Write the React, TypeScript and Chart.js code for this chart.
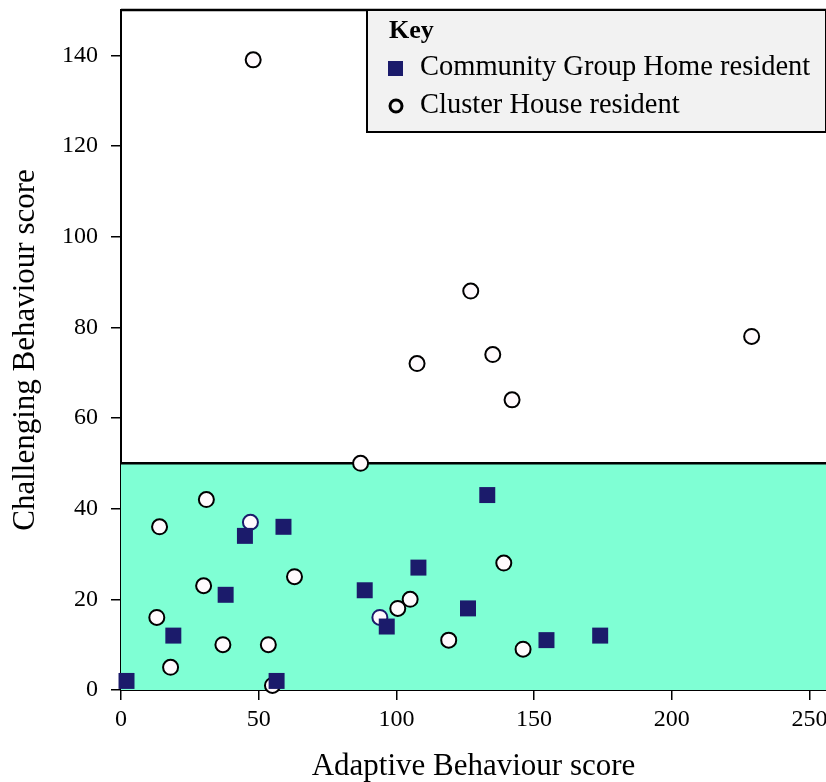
import React, { useEffect, useRef } from "react";
import { Chart, registerables } from "chart.js";

Chart.register(...registerables);

const xTitle = "Adaptive Behaviour score";
const yTitle = "Challenging Behaviour score";
const legendTitle = "Key";
const groupHomeLabel = "Community Group Home resident";
const clusterLabel = "Cluster House resident";

const xTicks = [0, 50, 100, 150, 200, 250];
const yTicks = [0, 20, 40, 60, 80, 100, 120, 140];
const threshold = 50;

// Community Group Home residents (adaptive, challenging)
const groupHomeX = [2, 19, 38, 45, 59, 56.5, 88.5, 96.5, 108, 133, 126, 154.5, 174];
const groupHomeY = [2, 12, 21, 34, 36, 2, 22, 14, 27, 43, 18, 11, 12];

// Cluster House residents (adaptive, challenging)
const clusterX = [48, 127, 135, 107.5, 142, 229, 87, 31, 14, 47, 63, 30, 139, 13, 37, 53.5, 18, 55, 94, 100.5, 105, 119, 146];
const clusterY = [139, 88, 74, 72, 64, 78, 50, 42, 36, 37, 25, 23, 28, 16, 10, 10, 5, 1, 16, 18, 20, 11, 9];
const clusterNavyBorder = [47, 94];

const NAVY = "#1b1b6b";
const TEAL = "#7fffd4";
const SERIF = "'Liberation Serif', 'DejaVu Serif', serif";

export default function App() {
  const ref = useRef<HTMLCanvasElement | null>(null);

  useEffect(() => {
    document.body.style.margin = "0";
    const canvas = ref.current;
    if (!canvas) return;

    const bandPlugin = {
      id: "band",
      beforeDatasetsDraw(chart: any) {
        const { ctx, chartArea, scales } = chart;
        const y50 = scales.y.getPixelForValue(threshold);
        const y0 = scales.y.getPixelForValue(0);
        ctx.save();
        ctx.fillStyle = TEAL;
        ctx.fillRect(chartArea.left, y50, chartArea.right - chartArea.left, y0 - y50);
        ctx.strokeStyle = "#000";
        ctx.lineWidth = 2.5;
        ctx.beginPath();
        ctx.moveTo(chartArea.left, y50);
        ctx.lineTo(chartArea.right, y50);
        ctx.moveTo(chartArea.left, chartArea.top);
        ctx.lineTo(chartArea.right, chartArea.top);
        ctx.stroke();
        ctx.restore();
      },
    };

    const keyPlugin = {
      id: "keybox",
      afterDatasetsDraw(chart: any) {
        const { ctx, chartArea } = chart;
        const left = 367;
        const top = chartArea.top;
        const right = 826;
        const bottom = 132;
        ctx.save();
        ctx.fillStyle = "#f2f2f2";
        ctx.fillRect(left, top, right - left, bottom - top);
        ctx.strokeStyle = "#000";
        ctx.lineWidth = 2;
        ctx.strokeRect(left, top, right - left, bottom - top);
        ctx.fillStyle = "#000";
        ctx.textBaseline = "middle";
        ctx.textAlign = "left";
        ctx.font = "bold 26px " + SERIF;
        ctx.fillText(legendTitle, 389, 31);
        ctx.font = "28.5px " + SERIF;
        ctx.fillText(groupHomeLabel, 420, 68);
        ctx.fillText(clusterLabel, 420, 106);
        ctx.fillStyle = NAVY;
        ctx.fillRect(388, 61, 15, 15);
        ctx.beginPath();
        ctx.arc(396, 106, 6, 0, Math.PI * 2);
        ctx.strokeStyle = "#000";
        ctx.lineWidth = 3;
        ctx.stroke();
        ctx.restore();
      },
    };

    const chart = new Chart(canvas, {
      type: "scatter",
      data: {
        datasets: [
          {
            label: groupHomeLabel,
            data: groupHomeX.map((x, i) => ({ x, y: groupHomeY[i] })),
            pointStyle: "rect",
            pointRadius: 11.3,
            backgroundColor: NAVY,
            borderColor: NAVY,
            borderWidth: 0,
            clip: false,
          },
          {
            label: clusterLabel,
            data: clusterX.map((x, i) => ({ x, y: clusterY[i] })),
            pointStyle: "circle",
            pointRadius: 7.5,
            backgroundColor: "#fffafd",
            borderColor: clusterX.map((x) => (clusterNavyBorder.includes(x) ? NAVY : "#000")),
            borderWidth: 2,
            clip: false,
          },
        ],
      },
      options: {
        responsive: false,
        animation: false,
        layout: { autoPadding: false, padding: { top: 10, right: 0, left: 0, bottom: 0 } },
        plugins: {
          legend: { display: false },
          tooltip: { enabled: false },
        },
        scales: {
          x: {
            type: "linear",
            min: 0,
            max: 256,
            afterBuildTicks: (s: any) => {
              s.ticks = xTicks.map((v) => ({ value: v }));
            },
            afterFit: (s: any) => {
              s.height = 92;
              s.paddingLeft = 0;
              s.paddingRight = 0;
            },
            ticks: {
              color: "#000",
              font: { family: SERIF, size: 24 },
              padding: 5,
              maxRotation: 0,
            },
            grid: {
              drawOnChartArea: false,
              drawTicks: true,
              tickLength: 10,
              color: "#000",
              lineWidth: 1.5,
            },
            border: { display: true, color: "#000", width: 2 },
            title: {
              display: true,
              text: xTitle,
              color: "#000",
              font: { family: SERIF, size: 31, lineHeight: 1 },
              padding: { top: 0, bottom: 0 },
            },
          },
          y: {
            type: "linear",
            min: 0,
            max: 150,
            afterBuildTicks: (s: any) => {
              s.ticks = yTicks.map((v) => ({ value: v }));
            },
            afterFit: (s: any) => {
              s.width = 121;
              s.paddingTop = 0;
              s.paddingBottom = 0;
            },
            ticks: {
              color: "#000",
              font: { family: SERIF, size: 24 },
              padding: 13,
            },
            grid: {
              drawOnChartArea: false,
              drawTicks: true,
              tickLength: 10,
              color: "#000",
              lineWidth: 1.5,
            },
            border: { display: true, color: "#000", width: 2 },
            title: {
              display: true,
              text: yTitle,
              color: "#000",
              font: { family: SERIF, size: 31, lineHeight: 1 },
              padding: { top: 10, bottom: 0 },
            },
          },
        },
      },
      plugins: [bandPlugin, keyPlugin],
    });

    return () => chart.destroy();
  }, []);

  return (
    <div style={{ width: 826, height: 782 }}>
      <canvas ref={ref} width={826} height={782} style={{ display: "block" }} />
    </div>
  );
}
